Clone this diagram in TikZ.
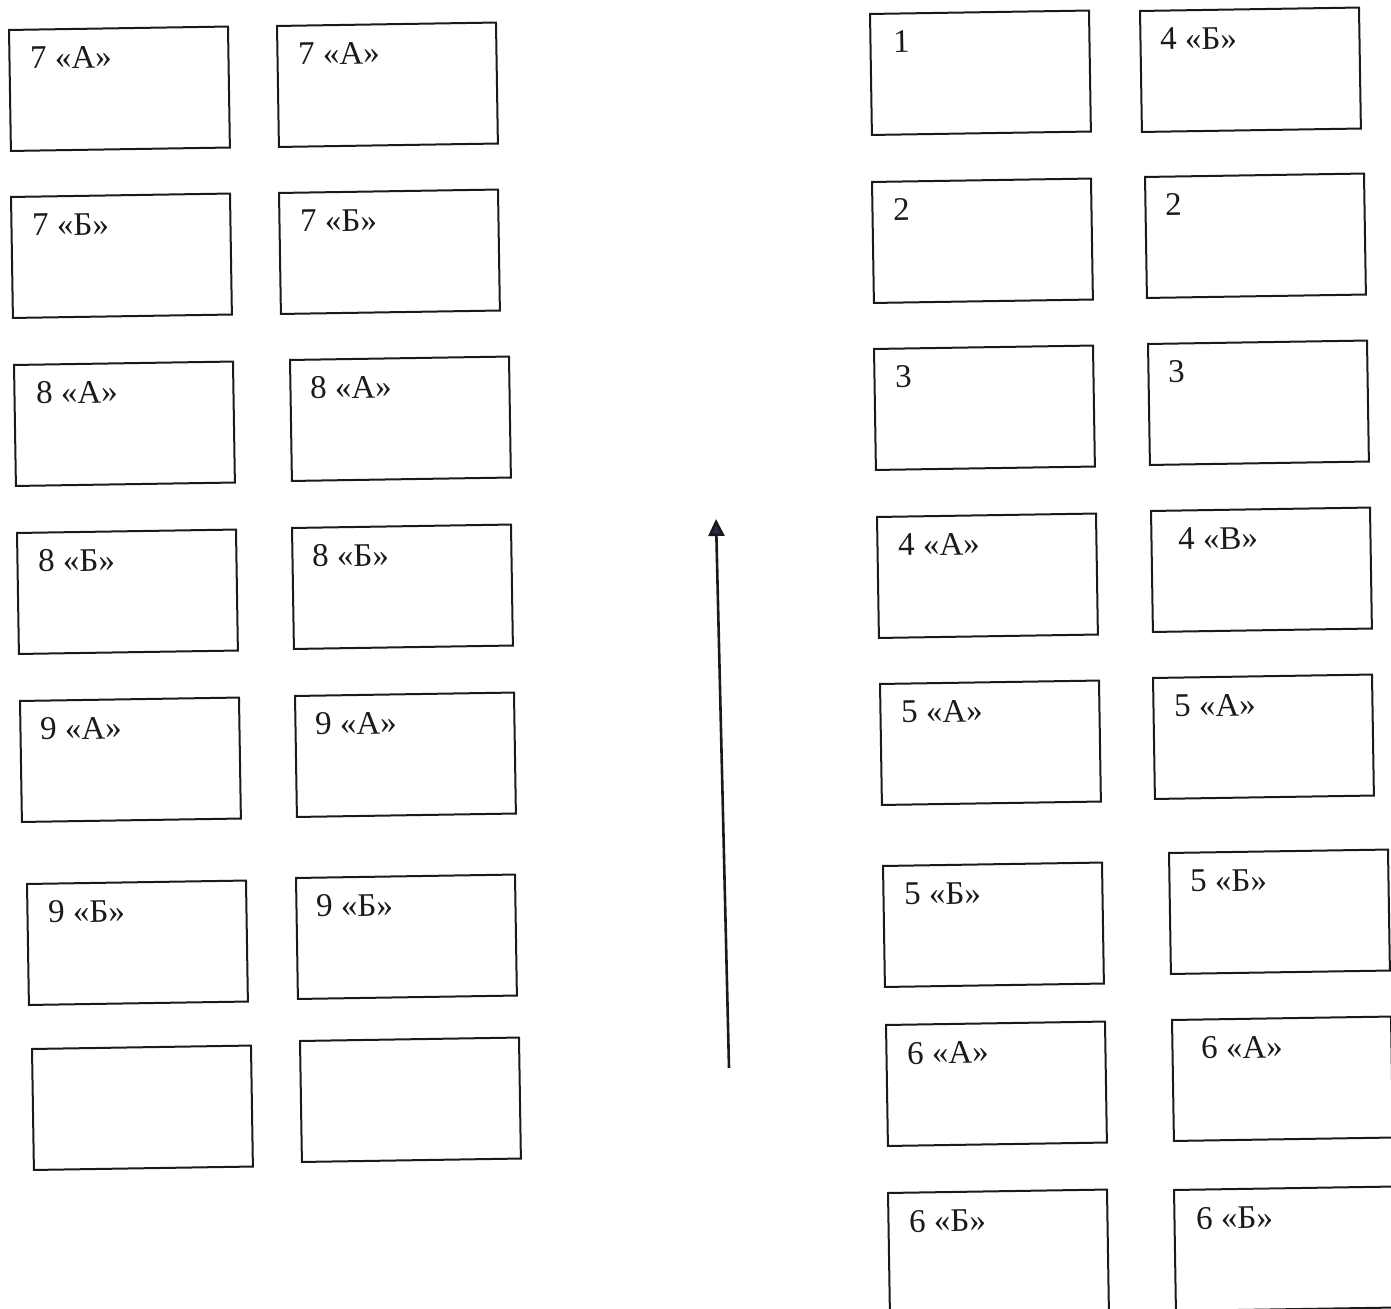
\documentclass[tikz,border=0pt]{standalone}
\usepackage{fontspec}
\setmainfont{Liberation Serif}
\usetikzlibrary{calc,arrows.meta}
\definecolor{ink}{HTML}{1A1A1A}
\definecolor{tipcol}{HTML}{2E2A4F}
\begin{document}
\begin{tikzpicture}[x=0.5pt,y=0.5pt,
  box/.style={draw=ink, line width=1pt, minimum width=109.5pt, minimum height=60.5pt,
              inner sep=0pt, rotate=0.9, anchor=north west},
  lbl/.style={font=\fontsize{16.5}{19}\selectfont, text=ink, inner sep=0pt,
              anchor=base west, rotate=0.9},
  arrowline/.style={draw=ink, line width=1.3pt,
              -{Triangle[length=8.5pt,width=8pt,fill=tipcol]}}]
\useasboundingbox (0,0) rectangle (1391,-1309);
\fill[white] (0,0) rectangle (1391,-1309);
% labelled boxes: name / x / y / text offset / text
\foreach \n/\x/\y/\dx/\t in {
  la/8/29/22/{7 «А»}, lb/10/196/22/{7 «Б»}, lc/13/364/23/{8 «А»}, ld/16/532/22/{8 «Б»},
  le/19/700/21/{9 «А»}, lf/26/883/22/{9 «Б»},
  ma/276/25/22/{7 «А»}, mb/278/192/22/{7 «Б»}, mc/289/359/21/{8 «А»}, md/291/527/21/{8 «Б»},
  me/294/695/21/{9 «А»}, mf/295/877/21/{9 «Б»},
  ra/869/13/24/{1}, rb/871/181/22/{2}, rc/873/348/22/{3}, rd/876/516/22/{4 «А»},
  re/879/683/22/{5 «А»}, rf/882/865/22/{5 «Б»}, rg/885/1024/22/{6 «А»}, rh/887/1192/22/{6 «Б»},
  sa/1139/10/21/{4 «Б»}, sb/1144/176/21/{2}, sc/1147/343/21/{3}, sd/1150/510/28/{4 «В»},
  se/1152/677/22/{5 «А»}, sf/1168/852/22/{5 «Б»}, sg/1171/1019/30/{6 «А»}, sh/1173/1189/23/{6 «Б»}}{
  \node[box] (\n) at (\x,-\y) {};
  \node[lbl] (\n-t) at ($(\n.north west)+(\dx,-40)$) {\t};
}
% empty boxes
\node[box] (lg) at (31,-1048) {};
\node[box] (mg) at (299,-1040) {};
% arrow
\coordinate (arrbot) at (729,-1068);
\coordinate (arrtop) at (716,-519);
\draw[arrowline] (arrbot) -- (arrtop);
\end{tikzpicture}
\end{document}
